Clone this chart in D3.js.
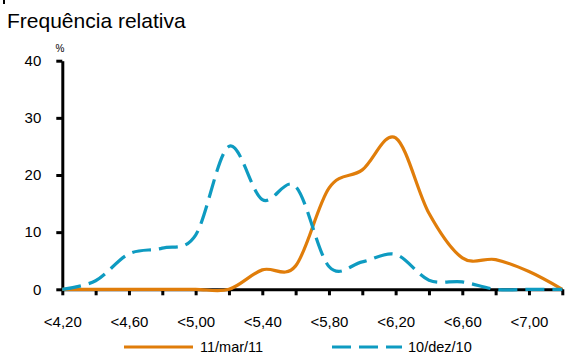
<!DOCTYPE html>
<html>
<head>
<meta charset="utf-8">
<script src="https://cdn.jsdelivr.net/npm/d3@7/dist/d3.min.js"></script>
<style>
  html, body { margin: 0; padding: 0; background: #fff; }
  svg { display: block; font-family: "Liberation Sans", Arial, sans-serif; }
</style>
</head>
<body>
<svg id="chart" width="565" height="356"></svg>
<script>
// Categories (class upper bounds), labels shown every other tick
const categories = ["4,20","4,40","4,60","4,80","5,00","5,20","5,40","5,60","5,80","6,00","6,20","6,40","6,60","6,80","7,00","7,20"];
const labeledCategories = ["4,20","4,60","5,00","5,40","5,80","6,20","6,60","7,00"];
const yTicks = [0, 10, 20, 30, 40];

const seriesMar11 = [0, 0, 0, 0, 0, 0, 3.4, 4.1, 17.7, 20.9, 26.5, 13.3, 5.5, 5.2, 3.1, 0];
const seriesDez10 = [0, 1.5, 6.2, 7.2, 9.5, 25, 15.7, 18, 4, 4.8, 6.1, 1.6, 1.3, 0, 0, 0];

const seriesNames = ["11/mar/11", "10/dez/10"];
const colors = ["#E07D0A", "#0E9BC1"];

const svg = d3.select("#chart");

const x = d3.scalePoint().domain(categories).range([62.3, 562.3]);
const y = d3.scaleLinear().domain([0, 40]).range([289.3, 60.7]);

// tiny cut-off mark at top-left
svg.append("rect").attr("x", 3).attr("y", 0).attr("width", 2).attr("height", 4).attr("fill", "#000");

// title
svg.append("text").attr("x", 7).attr("y", 28)
  .attr("font-size", 21).attr("fill", "#000")
  .text("Frequência relativa");

svg.append("text").attr("x", 60).attr("y", 52)
  .attr("font-size", 10).attr("text-anchor", "middle").attr("fill", "#000")
  .text("%");

// axes
const yAxis = d3.axisLeft(y).tickValues(yTicks).tickSize(6).tickSizeOuter(0).tickPadding(15);
const gy = svg.append("g").attr("transform", `translate(${x(categories[0])},0)`).call(yAxis);
gy.select(".domain").attr("stroke", "#000").attr("stroke-width", 3);
gy.selectAll(".tick line").attr("stroke", "#000").attr("stroke-width", 3);
gy.selectAll(".tick text").attr("font-size", 15).attr("fill", "#000").attr("font-family", "Liberation Sans, Arial, sans-serif");

const xAxis = d3.axisBottom(x).tickSize(6).tickSizeOuter(0).tickPadding(21)
  .tickFormat(d => labeledCategories.includes(d) ? "<" + d : "");
const gx = svg.append("g").attr("transform", `translate(0,${y(0)})`).call(xAxis);
gx.select(".domain").attr("stroke", "#000").attr("stroke-width", 3);
gx.selectAll(".tick line").attr("stroke", "#000").attr("stroke-width", 3);
gx.selectAll(".tick text").attr("font-size", 15).attr("fill", "#000").attr("font-family", "Liberation Sans, Arial, sans-serif");

// lines
const line = d3.line()
  .x((d, i) => x(categories[i]))
  .y(d => y(d))
  .curve(d3.curveCardinal.tension(0));

svg.append("path").datum(seriesMar11)
  .attr("d", line).attr("fill", "none")
  .attr("stroke", colors[0]).attr("stroke-width", 3.2);

svg.append("path").datum(seriesDez10)
  .attr("d", line).attr("fill", "none")
  .attr("stroke", colors[1]).attr("stroke-width", 3.2)
  .attr("stroke-dasharray", "19,8");

// legend
const legendY = 347;
const legend = [
  { x1: 124, x2: 193, tx: 200, dash: null },
  { x1: 332, x2: 402, tx: 408, dash: "19,8" }
];
legend.forEach((l, i) => {
  svg.append("line").attr("x1", l.x1).attr("x2", l.x2).attr("y1", legendY).attr("y2", legendY)
    .attr("stroke", colors[i]).attr("stroke-width", 3.2)
    .attr("stroke-dasharray", l.dash);
  svg.append("text").attr("x", l.tx).attr("y", legendY).attr("dy", "0.35em")
    .attr("font-size", 14.5).attr("fill", "#000").text(seriesNames[i]);
});
</script>
</body>
</html>
